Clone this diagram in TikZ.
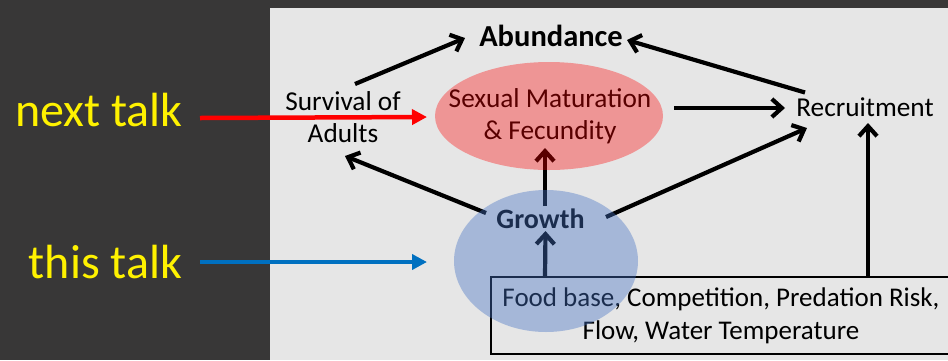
\documentclass[tikz,border=0pt]{standalone}
\usepackage{fontspec}
\setmainfont{Carlito}
\usetikzlibrary{arrows.meta,calc,shapes.geometric}
\definecolor{slate}{RGB}{56,55,55}
\definecolor{panel}{RGB}{230,230,230}
\definecolor{talkblue}{RGB}{0,112,192}
\definecolor{fadeblue}{RGB}{68,114,196}
\pgfdeclarelayer{front}
\pgfsetlayers{main,front}
\begin{document}
\begin{tikzpicture}[x=1pt,y=-1pt,
  lbl/.style={inner sep=0pt, align=center, font=\fontsize{27.3}{32.5}\selectfont},
  talk/.style={inner sep=0pt, text=yellow, font=\fontsize{48}{56}\selectfont},
  link/.style={line width=4.2pt, -{Straight Barb[length=10pt,width=18pt]}},
  pointer/.style={line width=4.5pt, -{Triangle[length=15pt,width=15pt]}},
  blob/.style={ellipse, inner sep=0pt, draw=none}
]
% backdrop and diagram panel
\fill[slate] (0,0) rectangle (948,360);
\fill[panel] (270,8) rectangle (948,360);
\useasboundingbox (0,0) rectangle (948,360);
\clip (0,0) rectangle (948,360);

% side labels
\node[talk] (next) at (99,110) {next talk};
\node[talk] (this) at (105.5,262) {this talk};

% model terms
\node[lbl, font=\fontsize{30.5}{36}\selectfont\bfseries] (ab) at (551,35.5) {Abundance};
\node[lbl] (surv) at (343,117) {Survival of\\Adults};
\node[lbl] (sexlbl) at (550,116) {Sexual Maturation\\\& Fecundity};
\node[lbl] (rec) at (865,107.5) {Recruitment};
\node[lbl, font=\fontsize{28}{33}\selectfont\bfseries] (gr) at (540.5,219) {Growth};
\node[lbl, font=\fontsize{27}{33}\selectfont, draw, line width=1.3pt,
      minimum width=460pt, minimum height=77pt] (env) at (721,315.5)
  {Food base, Competition, Predation Risk,\\Flow, Water Temperature};

% translucent highlight ellipses, laid over text and arrows
\begin{pgfonlayer}{front}
  \node[blob, fill=red, fill opacity=.35, minimum width=228pt, minimum height=108pt] (sex) at (549,116) {};
  \node[blob, fill=fadeblue, fill opacity=.4, minimum width=184pt, minimum height=142pt] (gre) at (546,261) {};
\end{pgfonlayer}

% causal links
\draw[link] ($(surv)+(12,-33)$) -- ($(ab)+(-86,2.5)$);
\draw[link] ($(rec)+(-60,-15)$) -- ($(ab)+(76,4.5)$);
\draw[link] ($(sex)+(125,-8)$) -- ($(rec)+(-80,0.5)$);
\draw[link] ($(gr)+(65.5,-2)$) -- ($(rec)+(-58,20.5)$);
\draw[link] ($(gr)+(-54.5,-6)$) -- ($(surv)+(2,39)$);
\draw[link] ($(gr)+(4.5,-13)$) -- ($(sex)+(-4,32)$);
\draw[link] ($(env)+(-176,-38.5)$) -- ($(gr)+(5,12)$);
\draw[link] ($(env)+(147,-38.5)$) -- ($(rec)+(3,15.5)$);

% talk pointers
\draw[pointer, red] ($(next)+(101,8)$) -- ($(sex)+(-122,1)$);
\draw[pointer, talkblue] ($(this)+(94.5,0)$) -- ($(gre)+(-119,1)$);
\end{tikzpicture}
\end{document}
